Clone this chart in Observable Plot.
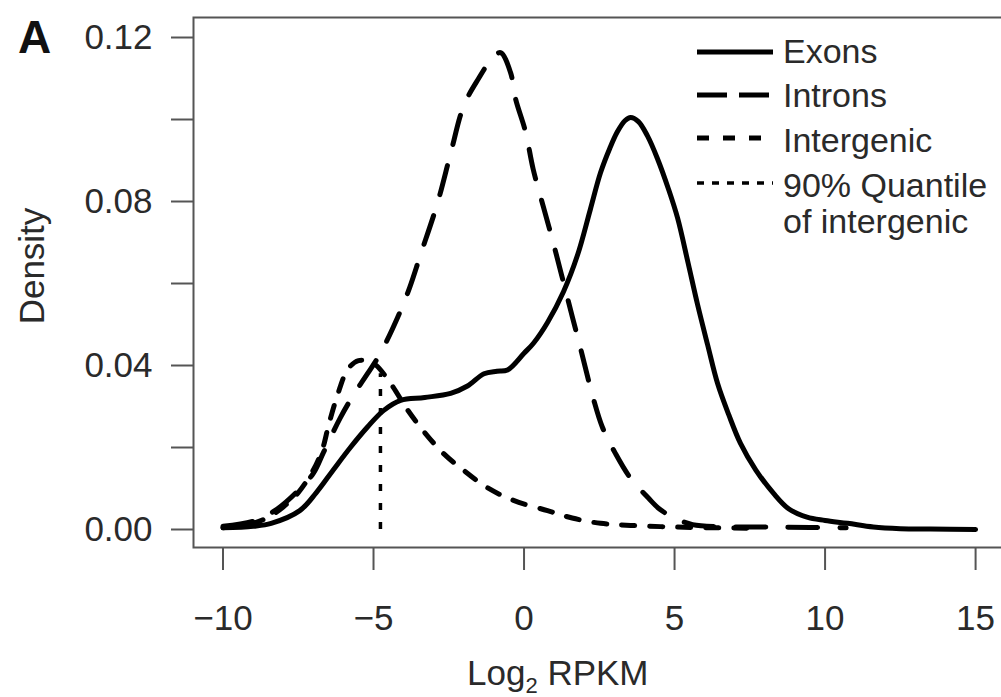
<!DOCTYPE html>
<html><head><meta charset="utf-8">
<script src="https://cdn.jsdelivr.net/npm/d3@7"></script>
<script src="https://cdn.jsdelivr.net/npm/@observablehq/plot@0.6"></script>
<style>body{margin:0;background:#fff;overflow:hidden} svg{display:block}</style>
</head><body><div id="chart"></div>
<script>
// ---- data ----
const exonsX = [-10, -9, -8.4, -7.45, -6.9, -6.35, -5.77, -5.2, -4.67, -4.1, -3.3, -2.44, -1.88, -1.33, -0.9, -0.55, 0, 0.32, 0.78, 1.31, 1.78, 2.2, 2.54, 2.85, 3.1, 3.35, 3.54, 3.8, 4.1, 4.43, 4.8, 5.1, 5.45, 5.76, 6.1, 6.43, 6.8, 7.19, 7.7, 8.29, 8.8, 9.4, 10.0, 10.75, 11.6, 12.5, 13.5, 15];
const exonsY = [0.0004, 0.0008, 0.0015, 0.0046, 0.009, 0.0144, 0.020, 0.025, 0.029, 0.0315, 0.0322, 0.0332, 0.035, 0.038, 0.0386, 0.0389, 0.043, 0.0455, 0.0505, 0.058, 0.067, 0.078, 0.087, 0.093, 0.097, 0.0997, 0.1005, 0.0995, 0.096, 0.0905, 0.083, 0.076, 0.065, 0.055, 0.045, 0.0356, 0.028, 0.021, 0.0145, 0.0088, 0.005, 0.003, 0.0022, 0.0015, 0.0006, 0.0002, 0.0001, 0.0];

const intronsX = [-10, -9, -8.2, -7.5, -7.0, -6.65, -6.1, -5.65, -5.2, -4.77, -4.2, -3.8, -3.44, -2.88, -2.44, -2.0, -1.51, -1.05, -0.78, -0.45, -0.28, 0.05, 0.3, 0.65, 0.95, 1.25, 1.6, 1.9, 2.3, 2.6, 3.04, 3.54, 4.14, 4.5, 5.0, 5.6, 6.5, 8, 9.5, 10.7];
const intronsY = [0.0008, 0.002, 0.005, 0.0095, 0.0137, 0.019, 0.0273, 0.033, 0.038, 0.043, 0.0517, 0.059, 0.067, 0.0795, 0.0917, 0.1034, 0.110, 0.115, 0.1163, 0.1115, 0.105, 0.097, 0.088, 0.0785, 0.0705, 0.062, 0.052, 0.0435, 0.032, 0.025, 0.0185, 0.0125, 0.0076, 0.005, 0.0028, 0.0012, 0.0007, 0.0006, 0.0005, 0.0004];

const intergenicX = [-10, -9, -8.5, -8, -7.5, -7, -6.7, -6.49, -6.2, -5.86, -5.5, -5.0, -4.43, -3.9, -3.34, -2.67, -2.0, -1.22, -0.35, 0.78, 1.6, 2.54, 3.54, 5, 6.5, 7.5];
const intergenicY = [0.0004, 0.0015, 0.003, 0.0055, 0.009, 0.0145, 0.0195, 0.0255, 0.0327, 0.039, 0.0412, 0.0405, 0.0356, 0.0295, 0.024, 0.0185, 0.0144, 0.0102, 0.0071, 0.0046, 0.0028, 0.0015, 0.001, 0.0006, 0.0004, 0.0003];

const quantileX = [-4.77];
const quantileTop = [0.038];

const xTicks = [-10, -5, 0, 5, 10, 15];
const yTicks = [0, 0.02, 0.04, 0.06, 0.08, 0.10, 0.12];
const yLabeled = [0, 0.04, 0.08, 0.12];

const legendLabels = [["Exons"], ["Introns"], ["Intergenic"], ["90% Quantile", "of intergenic"]];
const legendDash = [null, "30,12", "12,14", "7,8"];
const legendWidth = [5, 5, 5, 3.5];

const toRows = (xs, ys) => xs.map((x, i) => ({x, y: ys[i]}));
const exons = toRows(exonsX, exonsY);
const introns = toRows(intronsX, intronsY);
const intergenic = toRows(intergenicX, intergenicY);
const quantile = quantileX.map((x, i) => ({x, y1: 0, y2: quantileTop[i]}));

const FONT = "'Liberation Sans', Arial, Helvetica, sans-serif";
const fmt = d3.format(".2f");

const plot = Plot.plot({
  width: 1001, height: 697,
  marginLeft: 193, marginRight: -6, marginTop: 17, marginBottom: 150,
  style: {fontFamily: FONT, fontSize: "35px", color: "#2a2a2a", background: "#fff"},
  x: {domain: [-10.98, 16.06]},
  y: {domain: [-0.00439, 0.12488]},
  marks: [
    Plot.frame({stroke: "#555", strokeWidth: 2}),
    Plot.axisY({ticks: yTicks, tickSize: 22, tickPadding: 19, stroke: "#555", strokeWidth: 2, fill: "#2a2a2a",
      tickFormat: d => yLabeled.some(v => Math.abs(v - d) < 1e-9) ? fmt(d) : "", label: null}),
    Plot.axisX({ticks: xTicks, tickSize: 23, tickPadding: 35, stroke: "#555", strokeWidth: 2, fill: "#2a2a2a", label: null}),
    Plot.ruleX(quantile, {x: "x", y1: "y1", y2: "y2", stroke: "#000", strokeWidth: 3.5, strokeDasharray: "7,12"}),
    Plot.line(intergenic, {x: "x", y: "y", stroke: "#000", strokeWidth: 5, strokeDasharray: "13,15", curve: "catmull-rom"}),
    Plot.line(introns, {x: "x", y: "y", stroke: "#000", strokeWidth: 5, strokeDasharray: "30,22", curve: "catmull-rom"}),
    Plot.line(exons, {x: "x", y: "y", stroke: "#000", strokeWidth: 5, curve: "catmull-rom"})
  ]
});
document.getElementById("chart").appendChild(plot);

const svg = d3.select(plot);
// panel letter
svg.append("text").attr("x", 18).attr("y", 53).attr("text-anchor", "start").attr("font-family", FONT)
  .attr("font-size", 46).attr("font-weight", "bold").attr("fill", "#111").text("A");
// y label
svg.append("text").attr("transform", "translate(44,266) rotate(-90)").attr("text-anchor", "middle")
  .attr("font-family", FONT).attr("font-size", 35).attr("fill", "#2a2a2a").text("Density");
// x label with subscript
const xl = svg.append("text").attr("x", 467).attr("y", 685).attr("text-anchor", "start")
  .attr("font-family", FONT).attr("font-size", 35).attr("fill", "#2a2a2a");
xl.append("tspan").text("Log");
xl.append("tspan").attr("font-size", 22).attr("dy", 8).text("2");
xl.append("tspan").attr("dy", -8).text(" RPKM");
// legend
const lineY = [52, 95, 138, 183];
const textY = [63, 107, 152, 197];
const lg = svg.append("g").attr("text-anchor", "start");
legendLabels.forEach((lines, i) => {
  const ln = lg.append("line").attr("x1", 697).attr("x2", 773).attr("y1", lineY[i]).attr("y2", lineY[i])
    .attr("stroke", "#000").attr("stroke-width", legendWidth[i]);
  if (legendDash[i]) ln.attr("stroke-dasharray", legendDash[i]);
  lines.forEach((t, j) => {
    lg.append("text").attr("x", 783).attr("y", textY[i] + j * 36).attr("text-anchor", "start")
      .attr("font-family", FONT).attr("font-size", 34).attr("fill", "#2a2a2a").text(t);
  });
});
</script>
</body></html>
